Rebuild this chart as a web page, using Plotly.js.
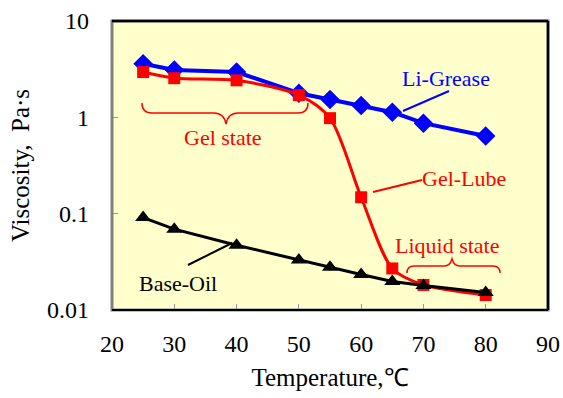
<!DOCTYPE html>
<html>
<head>
<meta charset="utf-8">
<script src="https://cdn.plot.ly/plotly-3.0.1.min.js"></script>
<style>html,body{margin:0;padding:0;background:#fff;}#chart{width:563px;height:398px;}</style>
</head>
<body>
<div id="chart"></div>
<script>
const temperature = [25, 30, 40, 50, 55, 60, 65, 70, 80];
const liGrease = [3.6, 3.1, 2.95, 1.78, 1.53, 1.33, 1.13, 0.87, 0.64];
const gelLube = [2.95, 2.55, 2.42, 1.70, 0.98, 0.148, 0.027, 0.0182, 0.0143];
const baseOil = [0.091, 0.069, 0.047, 0.033, 0.0277, 0.0234, 0.0198, 0.018, 0.0152];
const yTickVals = [0.01, 0.1, 1, 10];
const yTickText = ['0.01', '0.1', '1', '10'];

const W = 563, H = 398, ML = 112, MR = 15, MT = 21, MB = 88;
const PW = W - ML - MR, PH = H - MT - MB;
function px(x) { return (x - ML) / PW; }
function py(y) { return (H - MB - y) / PH; }
function pathPx(cmds) {
  return cmds.map(c => {
    const pts = [];
    for (let i = 1; i < c.length; i += 2) pts.push(px(c[i]).toFixed(4) + ',' + py(c[i + 1]).toFixed(4));
    return c[0] + pts.join(' ');
  }).join(' ');
}

const font = "'Liberation Serif', 'Times New Roman', serif";

const traces = [
  { x: temperature, y: liGrease, mode: 'lines+markers', name: 'Li-Grease',
    line: { color: '#0000ff', width: 4 },
    marker: { symbol: 'diamond', size: 15, color: '#0000ff' } },
  { x: temperature, y: gelLube, mode: 'lines+markers', name: 'Gel-Lube',
    line: { color: '#ff0000', width: 3, shape: 'spline', smoothing: 0.8 },
    marker: { symbol: 'square', size: 12, color: '#ff0000' } },
  { x: temperature, y: baseOil, mode: 'lines+markers', name: 'Base-Oil',
    line: { color: '#000000', width: 3 },
    marker: { symbol: 'triangle-up', size: 14, color: '#000000' } }
];

const gelBrace = pathPx([
  ['M', 142, 103], ['Q', 142, 113, 152, 113], ['L', 214, 113],
  ['Q', 224, 113, 226, 124], ['Q', 228, 113, 238, 113], ['L', 298, 113],
  ['Q', 308, 113, 308, 103]
]);
const liqBrace = pathPx([
  ['M', 407, 273], ['Q', 407, 266, 414, 266], ['L', 444, 266],
  ['Q', 450, 266, 452, 259], ['Q', 454, 266, 460, 266], ['L', 493, 266],
  ['Q', 500, 266, 500, 273]
]);

function label(text, x, y, color) {
  return { text: text, xref: 'paper', yref: 'paper', x: px(x), y: py(y),
    xanchor: 'center', yanchor: 'middle', showarrow: false,
    font: { family: font, size: 22, color: color } };
}

const layout = {
  width: W, height: H,
  margin: { l: ML, r: MR, t: MT, b: MB },
  paper_bgcolor: '#ffffff',
  plot_bgcolor: '#ffffcc',
  showlegend: false,
  font: { family: font, color: '#000000', size: 24 },
  xaxis: {
    range: [20, 90], dtick: 10, tick0: 20,
    ticks: 'inside', ticklen: 6, tickcolor: '#999999', tickwidth: 1,
    showgrid: false, zeroline: false, showline: false,
    tickfont: { family: font, size: 24 },
    ticklabelstandoff: 17,
    title: { text: 'Temperature,℃', font: { family: font, size: 25 }, standoff: 12 }
  },
  yaxis: {
    type: 'log', range: [-2, 1],
    tickvals: yTickVals, ticktext: yTickText,
    ticks: 'inside', ticklen: 6, tickcolor: '#999999', tickwidth: 1,
    showgrid: false, zeroline: false, showline: false,
    tickfont: { family: font, size: 24 },
    ticklabelstandoff: 22,
    title: { text: 'Viscosity,  Pa·s', font: { family: font, size: 25 }, standoff: 10 }
  },
  shapes: [
    { type: 'rect', xref: 'paper', yref: 'paper', x0: 0, x1: 1, y0: 0, y1: 1,
      line: { color: '#808080', width: 3 }, layer: 'above' },
    { type: 'line', xref: 'paper', yref: 'paper', x0: 0, x1: 1, y0: 1, y1: 1,
      line: { color: '#000000', width: 2.5 }, layer: 'above' },
    { type: 'line', xref: 'paper', yref: 'paper', x0: 1, x1: 1, y0: 0, y1: 1,
      line: { color: '#000000', width: 2.5 }, layer: 'above' },
    { type: 'line', xref: 'paper', yref: 'paper', x0: 0, x1: 1, y0: 0, y1: 0,
      line: { color: '#000000', width: 2 }, layer: 'above' },
    { type: 'path', xref: 'paper', yref: 'paper', path: gelBrace,
      line: { color: '#ff0000', width: 1.5 } },
    { type: 'path', xref: 'paper', yref: 'paper', path: liqBrace,
      line: { color: '#ff0000', width: 1.5 } },
    { type: 'line', xref: 'paper', yref: 'paper', x0: px(403), y0: py(111), x1: px(449), y1: py(91),
      line: { color: '#0000ff', width: 2 } },
    { type: 'line', xref: 'paper', yref: 'paper', x0: px(373), y0: py(192), x1: px(422), y1: py(180),
      line: { color: '#ff0000', width: 2 } },
    { type: 'line', xref: 'paper', yref: 'paper', x0: px(188), y0: py(265), x1: px(232), y1: py(243),
      line: { color: '#000000', width: 2 } }
  ],
  annotations: [
    label('Li-Grease', 446, 78, '#0000ff'),
    label('Gel state', 223, 137, '#ff0000'),
    label('Gel-Lube', 464, 179, '#ff0000'),
    label('Liquid state', 447, 246, '#ff0000'),
    label('Base-Oil', 178, 283, '#000000')
  ]
};

Plotly.newPlot('chart', traces, layout, { staticPlot: true, displayModeBar: false });
</script>
</body>
</html>
